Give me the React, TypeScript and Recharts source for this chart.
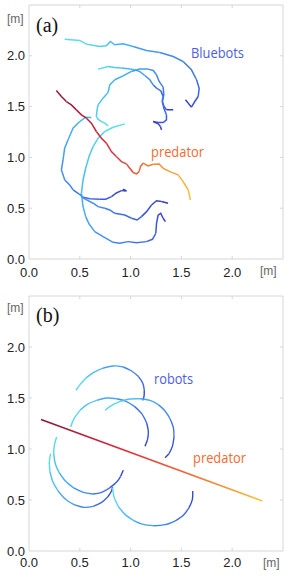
import React from 'react'
import { LineChart, Line, XAxis, YAxis, ReferenceArea, ReferenceLine } from 'recharts'

type XY = [number, number]

const axisTicks = [0, 0.5, 1, 1.5, 2]

// (a) measured Bluebot trajectories, start -> end
const bluebot1: XY[] = [[0.351, 2.164], [0.499, 2.151], [0.565, 2.115], [0.696, 2.092], [0.762, 2.098], [0.801, 2.141], [0.844, 2.108], [0.926, 2.118], [1.025, 2.092], [1.156, 2.053], [1.287, 2.033], [1.419, 1.993], [1.517, 1.944], [1.599, 1.862], [1.649, 1.764], [1.675, 1.681], [1.665, 1.599], [1.632, 1.55], [1.599, 1.494], [1.567, 1.534], [1.54, 1.567]]
const bluebot2: XY[] = [[0.68, 1.869], [0.745, 1.885], [0.778, 1.895], [0.844, 1.885], [0.91, 1.879], [0.975, 1.872], [1.041, 1.862], [1.091, 1.845], [1.14, 1.806], [1.189, 1.764], [1.222, 1.714], [1.255, 1.682], [1.298, 1.655], [1.32, 1.599], [1.31, 1.55], [1.33, 1.5], [1.354, 1.468], [1.42, 1.47]]
const bluebot3: XY[] = [[0.778, 1.31], [0.745, 1.337], [0.713, 1.353], [0.68, 1.376], [0.663, 1.402], [0.67, 1.468], [0.68, 1.517], [0.729, 1.583], [0.778, 1.639], [0.795, 1.714], [0.844, 1.764], [0.926, 1.803], [1.008, 1.846], [1.09, 1.869], [1.172, 1.869], [1.222, 1.856], [1.255, 1.813], [1.281, 1.747], [1.32, 1.691], [1.327, 1.616], [1.314, 1.55], [1.327, 1.484], [1.353, 1.419], [1.353, 1.369], [1.32, 1.343], [1.271, 1.343], [1.222, 1.353], [1.271, 1.33], [1.294, 1.304], [1.304, 1.271]]
const bluebot4: XY[] = [[0.614, 1.392], [0.558, 1.396], [0.499, 1.353], [0.433, 1.287], [0.384, 1.172], [0.351, 1.09], [0.335, 0.975], [0.319, 0.877], [0.352, 0.778], [0.401, 0.729], [0.434, 0.68], [0.483, 0.647], [0.532, 0.608], [0.6, 0.592], [0.697, 0.588], [0.755, 0.588], [0.812, 0.614], [0.86, 0.65], [0.91, 0.673], [0.96, 0.67], [0.926, 0.686]]
const bluebot5: XY[] = [[0.943, 1.33], [0.828, 1.297], [0.745, 1.255], [0.68, 1.189], [0.631, 1.107], [0.591, 1.008], [0.558, 0.893], [0.532, 0.778], [0.516, 0.647], [0.532, 0.516], [0.558, 0.417], [0.591, 0.345], [0.647, 0.269], [0.729, 0.22], [0.828, 0.164], [0.893, 0.154], [0.975, 0.171], [1.057, 0.161], [1.156, 0.171], [1.215, 0.194], [1.248, 0.253], [1.255, 0.351], [1.271, 0.433], [1.297, 0.45], [1.32, 0.401], [1.343, 0.368]]
const bluebot6: XY[] = [[0.5, 0.64], [0.535, 0.598], [0.631, 0.549], [0.68, 0.515], [0.746, 0.499], [0.795, 0.483], [0.844, 0.45], [0.943, 0.433], [1.009, 0.401], [1.064, 0.384], [1.107, 0.417], [1.157, 0.466], [1.206, 0.532], [1.255, 0.574], [1.304, 0.565], [1.369, 0.549]]
const predatorA: XY[] = [[0.269, 1.658], [0.319, 1.599], [0.368, 1.55], [0.417, 1.517], [0.466, 1.468], [0.516, 1.419], [0.565, 1.386], [0.614, 1.337], [0.663, 1.255], [0.713, 1.189], [0.762, 1.14], [0.811, 1.057], [0.86, 1.008], [0.91, 0.959], [0.959, 0.936], [0.992, 0.893], [1.025, 0.851], [1.057, 0.837], [1.084, 0.86], [1.097, 0.91], [1.123, 0.943], [1.172, 0.916], [1.222, 0.933], [1.281, 0.936], [1.32, 0.893], [1.386, 0.86], [1.468, 0.828], [1.517, 0.762], [1.567, 0.68], [1.589, 0.581]]

// (b) simulated robot arcs
const robot1: XY[] = [[0.463, 1.575], [0.502, 1.631], [0.561, 1.696], [0.633, 1.748], [0.715, 1.788], [0.83, 1.814], [0.928, 1.804], [1.01, 1.765], [1.076, 1.712], [1.119, 1.647], [1.135, 1.575], [1.132, 1.516], [1.119, 1.477]]
const robot2: XY[] = [[0.41, 1.216], [0.443, 1.297], [0.502, 1.379], [0.574, 1.438], [0.666, 1.477], [0.764, 1.5], [0.863, 1.493], [0.955, 1.467], [1.037, 1.418], [1.109, 1.346], [1.158, 1.255], [1.175, 1.167], [1.165, 1.085], [1.142, 1.026]]
const robot3: XY[] = [[0.748, 1.379], [0.814, 1.428], [0.896, 1.467], [0.994, 1.49], [1.093, 1.493], [1.191, 1.477], [1.273, 1.435], [1.339, 1.373], [1.388, 1.297], [1.421, 1.209], [1.427, 1.118], [1.411, 1.026], [1.378, 0.954], [1.339, 0.915]]
const robot4: XY[] = [[0.272, 1.118], [0.249, 1.036], [0.243, 0.954], [0.259, 0.856], [0.299, 0.765], [0.358, 0.686], [0.436, 0.621], [0.528, 0.578], [0.627, 0.559], [0.715, 0.575], [0.797, 0.621], [0.863, 0.676], [0.902, 0.732], [0.928, 0.791]]
const robot5: XY[] = [[0.213, 0.954], [0.2, 0.873], [0.207, 0.775], [0.233, 0.683], [0.282, 0.595], [0.354, 0.513], [0.443, 0.454], [0.541, 0.428], [0.633, 0.438], [0.715, 0.477], [0.774, 0.529], [0.807, 0.578], [0.823, 0.627]]
const robot6: XY[] = [[0.823, 0.621], [0.837, 0.529], [0.879, 0.438], [0.945, 0.359], [1.027, 0.301], [1.125, 0.261], [1.23, 0.248], [1.339, 0.258], [1.437, 0.294], [1.519, 0.35], [1.575, 0.425], [1.608, 0.507], [1.611, 0.588]]
const predatorB: XY[] = [[0.118, 1.288], [2.297, 0.49]]

const robotColors = ['#5ce6ea', '#46b2f2', '#4076ea', '#3838cc']
const predatorColors = ['#8a1838', '#d6283e', '#f06a36', '#f7c63c']

const hex = (h: string) => [1, 3, 5].map(i => parseInt(h.slice(i, i + 2), 16))

const colorAt = (stops: string[], t: number) => {
    const s = Math.max(0, Math.min(1, t)) * (stops.length - 1)
    const i = Math.min(Math.floor(s), stops.length - 2)
    const f = s - i
    const a = hex(stops[i])
    const b = hex(stops[i + 1])
    return `rgb(${a.map((v, k) => Math.round(v + (b[k] - v) * f)).join(',')})`
}

type Path = { pts: XY[]; stops: string[]; t0?: number }

// split a path into short overlapping pieces so the colour can change along it
const pieces = (path: Path, size: number) => {
    const out: { data: { x: number; y: number }[]; color: string }[] = []
    const n = path.pts.length
    const t0 = path.t0 ?? 0
    for (let i = 0; i < n - 1; i += size - 1) {
        const part = path.pts.slice(i, i + size)
        const mid = (i + (part.length - 1) / 2) / (n - 1)
        out.push({
            data: part.map(([x, y]) => ({ x, y })),
            color: colorAt(path.stops, t0 + (1 - t0) * mid),
        })
    }
    return out
}

const pathsA: Path[] = [
    { pts: bluebot1, stops: robotColors },
    { pts: bluebot2, stops: robotColors },
    { pts: bluebot3, stops: robotColors },
    { pts: bluebot4, stops: robotColors, t0: 0.25 },
    { pts: bluebot5, stops: robotColors },
    { pts: bluebot6, stops: robotColors, t0: 0.45 },
    { pts: predatorA, stops: predatorColors },
]

const pathsB: Path[] = [
    { pts: robot1, stops: robotColors },
    { pts: robot2, stops: robotColors },
    { pts: robot3, stops: robotColors },
    { pts: robot4, stops: robotColors },
    { pts: robot5, stops: robotColors },
    { pts: robot6, stops: robotColors },
]

const tickFont = { fontSize: 13, fill: '#222', fontFamily: '"Liberation Sans", Arial, sans-serif' }
const frameColor = '#d6d6d6'

const frame = () => [
    <ReferenceArea key="box" x1={0} x2={2.5} y1={0} y2={2.5} fill="none" stroke={frameColor} strokeWidth={1} ifOverflow="visible" />,
    ...axisTicks.slice(1).flatMap(v => [
        <ReferenceLine key={`b${v}`} segment={[{ x: v, y: 0 }, { x: v, y: 0.03 }]} stroke={frameColor} />,
        <ReferenceLine key={`t${v}`} segment={[{ x: v, y: 2.5 }, { x: v, y: 2.47 }]} stroke={frameColor} />,
        <ReferenceLine key={`l${v}`} segment={[{ x: 0, y: v }, { x: 0.03, y: v }]} stroke={frameColor} />,
        <ReferenceLine key={`r${v}`} segment={[{ x: 2.5, y: v }, { x: 2.47, y: v }]} stroke={frameColor} />,
    ]),
]

type PanelProps = {
    height: number
    top: number
    xAxisHeight: number
    xMargin: number
    paths: Path[]
    curve: 'linear' | 'natural'
    width: number
    withPredatorLine?: boolean
}

const Panel = ({ height, top, xAxisHeight, xMargin, paths, curve, width, withPredatorLine }: PanelProps) => (
    <LineChart width={290} height={height} margin={{ top, right: 7, bottom: 0, left: 0 }}>
        <defs>
            <linearGradient id="predLine" x1="0" y1="0" x2="1" y2="0">
                {predatorColors.map((c, i) => (
                    <stop key={c} offset={i / (predatorColors.length - 1)} stopColor={c} />
                ))}
            </linearGradient>
        </defs>
        <XAxis
            type="number"
            dataKey="x"
            domain={[0, 2.5]}
            ticks={axisTicks}
            tickFormatter={v => Number(v).toFixed(1)}
            tick={tickFont}
            tickLine={false}
            axisLine={false}
            tickSize={0}
            tickMargin={xMargin}
            height={xAxisHeight}
            allowDataOverflow
        />
        <YAxis
            type="number"
            dataKey="y"
            domain={[0, 2.5]}
            ticks={axisTicks}
            tickFormatter={v => Number(v).toFixed(1)}
            tick={tickFont}
            tickLine={false}
            axisLine={false}
            tickSize={0}
            tickMargin={4}
            width={29}
            allowDataOverflow
        />
        {frame()}
        {paths.flatMap((p, pi) =>
            pieces(p, 3).map((s, si) => (
                <Line
                    key={`${pi}-${si}`}
                    data={s.data}
                    dataKey="y"
                    type={curve}
                    stroke={s.color}
                    strokeWidth={width}
                    dot={false}
                    activeDot={false}
                    isAnimationActive={false}
                />
            ))
        )}
        {withPredatorLine && (
            <Line
                data={predatorB.map(([x, y]) => ({ x, y }))}
                dataKey="y"
                type="linear"
                stroke="url(#predLine)"
                strokeWidth={1.6}
                dot={false}
                activeDot={false}
                isAnimationActive={false}
            />
        )}
    </LineChart>
)

const labelFont = '"Open Sans", "Noto Sans", sans-serif'
const unitStyle = { fontSize: 12, fill: '#666', fontFamily: '"Liberation Sans", Arial, sans-serif' }
const serif = '"Liberation Serif", "DejaVu Serif", serif'

const App = () => {
    return (
        <div style={{ position: 'absolute', left: 0, top: 0, width: 290, height: 577, background: '#fff' }}>
            <div style={{ position: 'absolute', left: 0, top: 0 }}>
                <Panel height={290} top={5} xAxisHeight={31} xMargin={9} paths={pathsA} curve="linear" width={1.5} />
            </div>
            <div style={{ position: 'absolute', left: 0, top: 290 }}>
                <Panel height={287} top={6} xAxisHeight={26} xMargin={7} paths={pathsB} curve="natural" width={1.4} withPredatorLine />
            </div>
            <svg width={290} height={577} style={{ position: 'absolute', left: 0, top: 0, pointerEvents: 'none' }}>
                <text x={7} y={23} style={unitStyle}>[m]</text>
                <text x={260} y={275} style={unitStyle}>[m]</text>
                <text x={7} y={312} style={unitStyle}>[m]</text>
                <text x={263} y={567} style={unitStyle}>[m]</text>
                <text x={36} y={32} fontSize={20} fontFamily={serif} fill="#111">(a)</text>
                <text x={36} y={322} fontSize={20} fontFamily={serif} fill="#111">(b)</text>
                <text x={191} y={57.5} fontSize={14} fontFamily={labelFont} fill="#4b5ce6" textLength={53} lengthAdjust="spacingAndGlyphs">Bluebots</text>
                <text x={151} y={156.5} fontSize={14} fontFamily={labelFont} fill="#f26a30" textLength={53} lengthAdjust="spacingAndGlyphs">predator</text>
                <text x={154} y={384} fontSize={14} fontFamily={labelFont} fill="#4b5ce6" textLength={39} lengthAdjust="spacingAndGlyphs">robots</text>
                <text x={193} y={463} fontSize={14} fontFamily={labelFont} fill="#f26a30" textLength={53} lengthAdjust="spacingAndGlyphs">predator</text>
            </svg>
        </div>
    )
}

export default App
